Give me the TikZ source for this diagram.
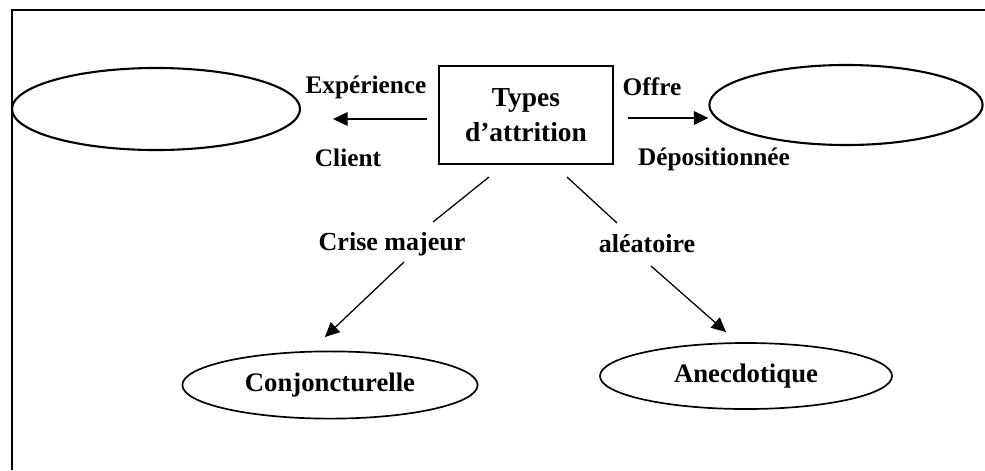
\documentclass[tikz,border=0pt]{standalone}
\usepackage{fontspec}
\setmainfont{Liberation Serif}
\usepackage{tikz}
\usetikzlibrary{arrows.meta, shapes.geometric}

\begin{document}
\begin{tikzpicture}[x=0.025cm, y=-0.025cm,
  typebox/.style={rectangle, draw, line width=1.1pt, minimum width=4.35cm,
                  minimum height=2.45cm, align=center,
                  font=\fontsize{19.5}{25}\selectfont\bfseries},
  sideell/.style={ellipse, draw, line width=1.5pt, inner sep=0pt},
  lowell/.style={ellipse, draw, line width=1.2pt, inner sep=0pt,
                 font=\fontsize{19}{22}\selectfont\bfseries},
  smalllab/.style={font=\fontsize{18}{20}\selectfont\bfseries},
  midlab/.style={font=\fontsize{18.5}{22}\selectfont\bfseries},
  arr/.style={-{Triangle[length=3.6mm,width=3.4mm]}, line width=0.9pt},
  link/.style={line width=0.9pt}
]
\useasboundingbox (0,0) rectangle (985,470);
\draw[line width=0.8pt] (12,470) -- (12,10) -- (985,10);

\node[typebox] (types) at (526,115) {Types\\d'attrition};
\node[sideell, minimum width=7.2cm, minimum height=2.05cm] (leftell) at (156,109) {};
\node[sideell, minimum width=6.83cm, minimum height=2.0cm] (rightell) at (846,105) {};
\node[lowell, minimum width=7.38cm, minimum height=1.68cm] (conj) at (330,385) {Conjoncturelle};
\node[lowell, minimum width=7.3cm, minimum height=1.65cm] (anec) at (746,376) {Anecdotique};

\node[smalllab] (exp) at (366,87) {Expérience};
\node[smalllab] (client) at (348,158) {Client};
\node[smalllab] (offre) at (652,87) {Offre};
\node[smalllab] (depos) at (714,159) {Dépositionnée};
\node[midlab] (crise) at (392,244) {Crise majeur};
\node[midlab] (alea) at (647,244) {aléatoire};

\coordinate (ltop) at (489,177);
\coordinate (lmid) at (433,222);
\coordinate (llow) at (404,262);
\coordinate (ltip) at (325,337);
\coordinate (rtop) at (567,177);
\coordinate (rmid) at (617,223);
\coordinate (rlow) at (651,266);
\coordinate (rtip) at (726,332);

\draw[arr, shorten <=0.28cm, shorten >=0.8cm] (types.west |- 0,119) -- (leftell.east |- 0,119);
\draw[arr, shorten <=0.35cm] (types.east |- 0,118) -- (rightell.west |- 0,118);
\draw[link] (ltop) -- (lmid);
\draw[arr] (llow) -- (ltip);
\draw[link] (rtop) -- (rmid);
\draw[arr] (rlow) -- (rtip);
\end{tikzpicture}
\end{document}
